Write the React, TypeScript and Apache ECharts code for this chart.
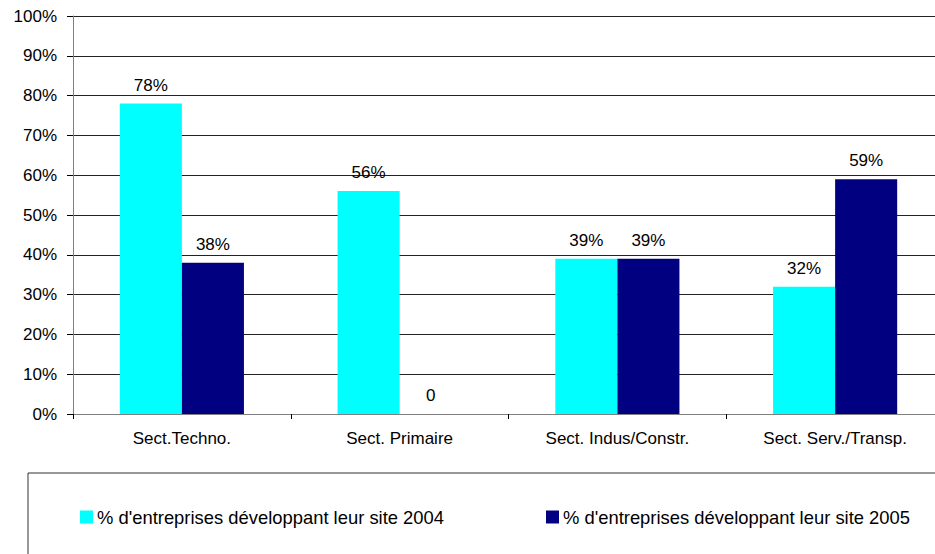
import React, { useEffect, useRef } from "react";
import * as echarts from "echarts";

const categories = ["Sect.Techno.", "Sect. Primaire", "Sect. Indus/Constr.", "Sect. Serv./Transp."];
const series2004 = [78, 56, 39, 32];
const series2005 = [38, 0, 39, 59];
const seriesNames = [
  "% d'entreprises développant leur site 2004",
  "% d'entreprises développant leur site 2005",
];
const yTicks = { min: 0, max: 100, interval: 10 };

const FONT = "'Liberation Sans', Arial, sans-serif";

export default function App() {
  const ref = useRef<HTMLDivElement>(null);
  useEffect(() => {
    if (!ref.current) return;
    const chart = echarts.init(ref.current, undefined, { renderer: "svg" });
    const labelCfg = {
      show: true,
      position: "top",
      distance: 10,
      color: "#000",
      fontSize: 17,
      fontFamily: FONT,
      formatter: (p: any) => (p.value === 0 ? "0" : p.value + "%"),
    };
    const legendText = { fontSize: 18.4, color: "#000", fontFamily: FONT, padding: [0, 0, 0, -1] };
    chart.setOption({
      animation: false,
      backgroundColor: "#fff",
      textStyle: { fontFamily: FONT },
      grid: { left: 73, top: 16, width: 871, height: 398, containLabel: false },
      legend: [
        {
          data: [seriesNames[0]],
          left: 80,
          top: 508,
          icon: "rect",
          itemWidth: 13,
          itemHeight: 13,
          padding: 0,
          textStyle: legendText,
        },
        {
          data: [seriesNames[1]],
          left: 546,
          top: 508,
          icon: "rect",
          itemWidth: 13,
          itemHeight: 13,
          padding: 0,
          textStyle: legendText,
        },
      ],
      xAxis: {
        type: "category",
        data: categories,
        axisLine: { lineStyle: { color: "#808080", width: 1 } },
        axisTick: { show: true, length: 5, lineStyle: { color: "#000" }, alignWithLabel: false },
        axisLabel: { color: "#000", fontSize: 17, margin: 16, fontFamily: FONT, interval: 0 },
      },
      yAxis: {
        type: "value",
        min: yTicks.min,
        max: yTicks.max,
        interval: yTicks.interval,
        axisLine: { show: true, lineStyle: { color: "#808080", width: 1 } },
        axisTick: { show: true, length: 6, lineStyle: { color: "#000" } },
        axisLabel: { color: "#000", fontSize: 17, margin: 16, fontFamily: FONT, formatter: "{value}%" },
        splitLine: { show: true, lineStyle: { color: "#222", width: 1 } },
      },
      series: [
        {
          name: seriesNames[0],
          type: "bar",
          data: series2004,
          barGap: "0%",
          barCategoryGap: "43%",
          itemStyle: { color: "#00FFFF" },
          label: labelCfg,
        },
        {
          name: seriesNames[1],
          type: "bar",
          data: series2005,
          barGap: "0%",
          barCategoryGap: "43%",
          itemStyle: { color: "#000080" },
          label: labelCfg,
        },
      ],
      graphic: [
        {
          type: "rect",
          shape: { x: 28, y: 473, width: 960, height: 120 },
          style: { fill: "none", stroke: "#333", lineWidth: 1 },
          silent: true,
        },
      ],
    });
    return () => chart.dispose();
  }, []);
  return (
    <div
      style={{
        position: "fixed",
        left: 0,
        top: 0,
        width: 935,
        height: 554,
        overflow: "hidden",
        background: "#fff",
      }}
    >
      <div ref={ref} style={{ width: 980, height: 554 }} />
    </div>
  );
}
